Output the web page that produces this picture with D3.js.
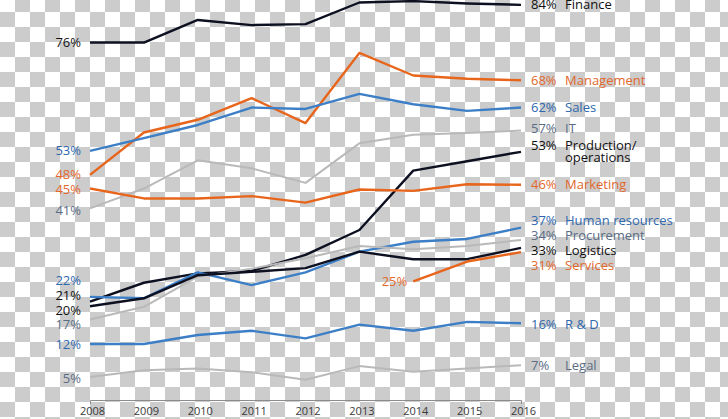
<!DOCTYPE html>
<html><head><meta charset="utf-8">
<script src="https://cdn.jsdelivr.net/npm/d3@7/dist/d3.min.js"></script>
<style>body{margin:0;background:#fff;overflow:hidden}svg{display:block}</style>
</head><body>
<script>
// ---- data ----
const years = [2008, 2009, 2010, 2011, 2012, 2013, 2014, 2015, 2016];
const seriesNames = ["Finance", "Management", "Sales", "IT", "Production/operations", "Marketing",
  "Human resources", "Procurement", "Logistics", "Services", "R & D", "Legal"];
const finance     = [76, 76, 80.8, 79.7, 79.9, 84.5, 84.8, 84.3, 84];
const management  = [47.9, 56.9, 59.6, 64.2, 58.9, 73.8, 69, 68.3, 68];
const sales       = [53, 55.7, 58.5, 62.2, 61.9, 65.1, 62.9, 61.5, 62.2];
const it          = [40.8, 45, 51, 49.3, 46.2, 54.6, 56.4, 56.8, 57.3];
const production  = [21, 25, 27, 27.5, 30.9, 36.2, 48.8, 50.8, 52.8];
const marketing   = [45, 42.9, 42.9, 43.4, 42, 44.8, 44.5, 45.9, 45.8];
const humanRes    = [22, 21.7, 27.2, 24.5, 27.2, 31.6, 33.7, 34.3, 36.7];
const procurement = [17.2, 19.9, 26.3, 28, 30.2, 32.8, 32.1, 32.8, 34.1];
const logistics   = [20, 21.7, 26.6, 27.3, 28.1, 31.6, 30, 30, 32.4];
const services    = [null, null, null, null, null, null, 25.3, 29.5, 31.5];
const rnd         = [12, 12, 13.9, 14.8, 13.2, 16.1, 14.8, 16.7, 16.4];
const legal       = [5, 6.4, 6.8, 6, 4.4, 7.3, 6.1, 6.8, 7.5];
const startLabels = ["76%", "48%", "53%", "41%", "21%", "45%", "22%", "17%", "20%", "25%", "12%", "5%"];
const endLabels   = ["84%", "68%", "62%", "57%", "53%", "46%", "37%", "34%", "33%", "31%", "16%", "7%"];
const endNames    = [["Finance"], ["Management"], ["Sales"], ["IT"], ["Production/", "operations"], ["Marketing"],
  ["Human resources"], ["Procurement"], ["Logistics"], ["Services"], ["R & D"], ["Legal"]];
const allValues = [finance, management, sales, it, production, marketing, humanRes, procurement, logistics, services, rnd, legal];

// ---- styles / layout ----
const W = 728, H = 419;
const kind = ["dark", "orange", "blue", "gray", "dark", "orange", "blue", "gray", "dark", "orange", "blue", "gray"];
const lineColor = {dark: "#0d1020", orange: "#e8651c", blue: "#3d7fc6", gray: "#b9b9b9"};
const lineWidth = {dark: 2.4, orange: 2.4, blue: 2.4, gray: 2};
const textColor = {dark: "#111111", orange: "#e2682c", blue: "#2f68ad", gray: "#5a6c85"};
const startNudge = [0, 0, 0, 2, -6, 1, -16, 5, 4, 0, 0, 1];
const endNudge   = [0, 0, 0, -2, -6, 0, -7.5, -4, 3, 13.5, 1, 0];

const svg = d3.select("body").append("svg").attr("width", W).attr("height", H);

// transparency checkerboard backdrop
const pat = svg.append("defs").append("pattern").attr("id", "chk")
  .attr("patternUnits", "userSpaceOnUse").attr("width", 30).attr("height", 30)
  .attr("x", 0).attr("y", -3);
pat.append("rect").attr("width", 30).attr("height", 30).attr("fill", "#ffffff");
pat.append("rect").attr("x", 15).attr("y", 0).attr("width", 15).attr("height", 15).attr("fill", "#cccccc");
pat.append("rect").attr("x", 0).attr("y", 15).attr("width", 15).attr("height", 15).attr("fill", "#cccccc");
svg.append("rect").attr("width", W).attr("height", H).attr("fill", "url(#chk)");

const x = d3.scalePoint().domain(years).range([90, 521]);
const y = d3.scaleLinear().domain([0, 85]).range([400.5, 0.15]);

// axis
const ax = svg.append("g").attr("transform", "translate(0,400)")
  .call(d3.axisBottom(x).tickSizeInner(0).tickSizeOuter(4).tickPadding(7));
ax.select(".domain").attr("stroke", "#8c8c8c");
ax.selectAll("text").attr("font-family", "Open Sans, sans-serif").attr("font-size", 11)
  .attr("fill", "#3a3a3a").attr("dx", 2);

const font = "Open Sans, sans-serif";
const series = seriesNames.map((n, i) => ({name: n, values: allValues[i], k: kind[i], i}));

const line = d3.line().defined(d => d.v != null).x(d => x(d.year)).y(d => y(d.v));
svg.append("g").selectAll("path").data(series).join("path")
  .attr("fill", "none")
  .attr("stroke", d => lineColor[d.k])
  .attr("stroke-width", d => lineWidth[d.k])
  .attr("stroke-linejoin", "round")
  .attr("d", d => line(years.map((yr, j) => ({year: yr, v: d.values[j]}))));

// start labels
const lab = svg.append("g").attr("font-family", font).attr("font-size", 13);
series.forEach(s => {
  const j = s.values.findIndex(v => v != null);
  const lx = j === 0 ? 81 : x(years[j]) - 6;
  lab.append("text").attr("x", lx).attr("y", y(s.values[j]) + startNudge[s.i])
    .attr("dy", "0.35em").attr("text-anchor", "end").attr("fill", textColor[s.k])
    .text(startLabels[s.i]);
});
// end labels
series.forEach(s => {
  const last = s.values[s.values.length - 1];
  const ly = y(last) + endNudge[s.i];
  lab.append("text").attr("x", 531).attr("y", ly).attr("dy", "0.35em")
    .attr("fill", textColor[s.k]).text(endLabels[s.i]);
  endNames[s.i].forEach((t, m) => {
    lab.append("text").attr("x", 565).attr("y", ly + m * 11.7).attr("dy", "0.35em")
      .attr("fill", textColor[s.k]).text(t);
  });
});
</script>
</body></html>
